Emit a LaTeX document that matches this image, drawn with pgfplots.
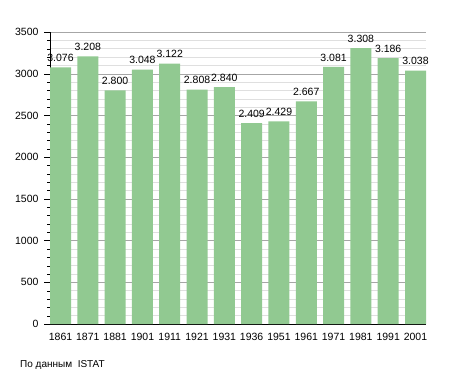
\documentclass[border=0pt]{standalone}
\usepackage{pgfplots}
\pgfplotsset{compat=1.18}
\usepackage{fontspec}
\setmainfont{Liberation Sans}
\definecolor{bargreen}{RGB}{145,201,145}
\begin{document}
\begin{tikzpicture}[x=1bp,y=1bp]
\useasboundingbox (0,0) rectangle (455,373);
\begin{axis}[
  at={(50bp,49bp)}, anchor=south west,
  scale only axis, width=376bp, height=292bp,
  xmin=-0.385, xmax=13.385, ymin=0, ymax=3500,
  axis lines=left, axis line style={-, black},
  /pgf/number format/assume math mode=true,
  xtick=data,
  xticklabels={1861,1871,1881,1901,1911,1921,1931,1936,1951,1961,1971,1981,1991,2001},
  x tick style={draw=none},
  ytick={0,500,...,3500}, minor y tick num=4,
  y tick style={black}, tickwidth=6bp, subtickwidth=3bp,
  tick align=outside,
  ymajorgrids, yminorgrids,
  major grid style={draw=gray!70},
  minor grid style={draw=gray!25},
  tick label style={font=\fontsize{10.5bp}{12bp}\selectfont},
  yticklabel style={/pgf/number format/1000 sep={}, xshift=-2bp},
  xticklabel style={yshift=0bp},
  ybar, bar width=21bp,
  nodes near coords,
  every node near coord/.append style={font=\fontsize{10.5bp}{12bp}\selectfont, /pgf/number format/1000 sep={.}, /pgf/number format/assume math mode=true, inner sep=3bp, yshift=2.5bp},
  clip=false,
]
\addplot[fill=bargreen, draw=none] coordinates {
(0,3076) (1,3208) (2,2800) (3,3048) (4,3122) (5,2808) (6,2840)
(7,2409) (8,2429) (9,2667) (10,3081) (11,3308) (12,3186) (13,3038)};
\end{axis}
\node[anchor=base west, font=\fontsize{10bp}{12bp}\selectfont, inner sep=0] at (20bp,6bp) {По данным\ \ ISTAT};
\end{tikzpicture}
\end{document}
